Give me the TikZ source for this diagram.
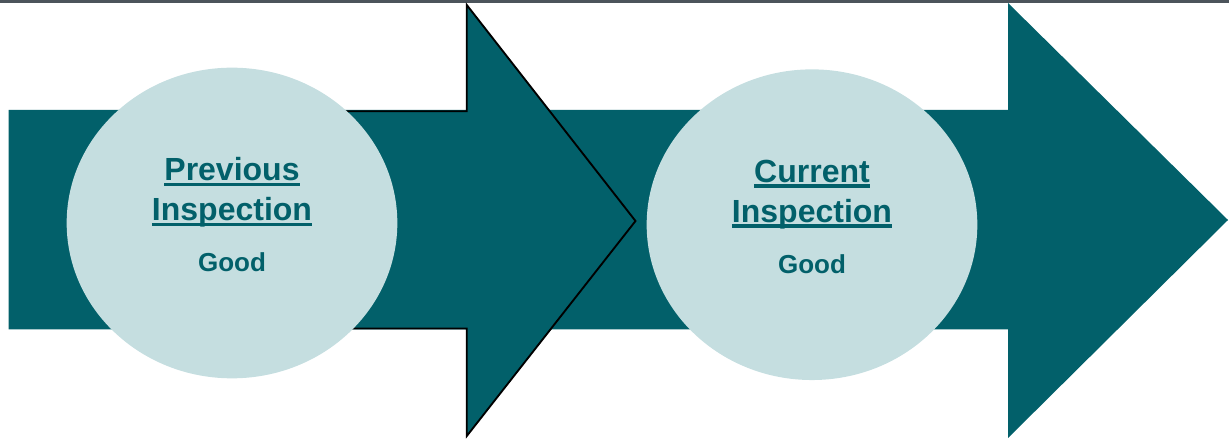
\documentclass[tikz,border=0pt]{standalone}
\usepackage{fontspec}
\setmainfont{Liberation Sans}
\usepackage{tikz}
\usetikzlibrary{shapes.geometric}

\definecolor{arrowteal}{HTML}{02606A}
\definecolor{bubblefill}{HTML}{C5DEE0}
\definecolor{rulegrey}{HTML}{4C545B}

% underlined heading word, rule crosses the descenders
\newcommand{\ulword}[1]{\vtop{\hbox{\smash{#1}}\kern1.2pt\hrule height 2.9pt}}

\begin{document}
\begin{tikzpicture}[x=0.75pt, y=-0.75pt,
		bubble/.style={ellipse, fill=bubblefill, inner sep=0pt,
			minimum width=248pt, minimum height=233pt},
		heading/.style={anchor=base, inner sep=0pt, text=arrowteal,
			font=\bfseries\fontsize{24pt}{28pt}\selectfont},
		verdict/.style={anchor=base, inner sep=0pt, text=arrowteal,
			font=\bfseries\fontsize{19.5pt}{23pt}\selectfont}]
		\useasboundingbox (0,0) rectangle (1229,441);
		\fill[rulegrey] (0,0) rectangle (1229,2.7);
		% second arrow lies behind the first
		\fill[arrowteal] (500,110) -- (1008,110) -- (1008,3) -- (1228,220)
			-- (1008,438) -- (1008,329.5) -- (500,329.5) -- cycle;
		\fill[arrowteal] (8.5,110) -- (466,110) -- (466,4) -- (636.5,221)
			-- (466,437) -- (466,329.5) -- (8.5,329.5) -- cycle;
		\draw[black, line width=1.4pt, line join=miter]
			(300,111.3) -- (466.8,111.3) -- (466.8,5) -- (635.5,221)
			-- (466.8,436) -- (466.8,328.5) -- (300,328.5);
		\node[bubble] (prev) at (232,223) {};
		\node[bubble] (curr) at (812,224.7) {};
		\node[heading] (prev-1) at (232,181) {\ulword{Previous}};
		\node[heading] (prev-2) at (232,221) {\ulword{Inspection}};
		\node[verdict] (prev-3) at (232,271.7) {Good};
		\node[heading] (curr-1) at (812,182.5) {\ulword{Current}};
		\node[heading] (curr-2) at (812,222.5) {\ulword{Inspection}};
		\node[verdict] (curr-3) at (812,273.3) {Good};
	\end{tikzpicture}
\end{document}
